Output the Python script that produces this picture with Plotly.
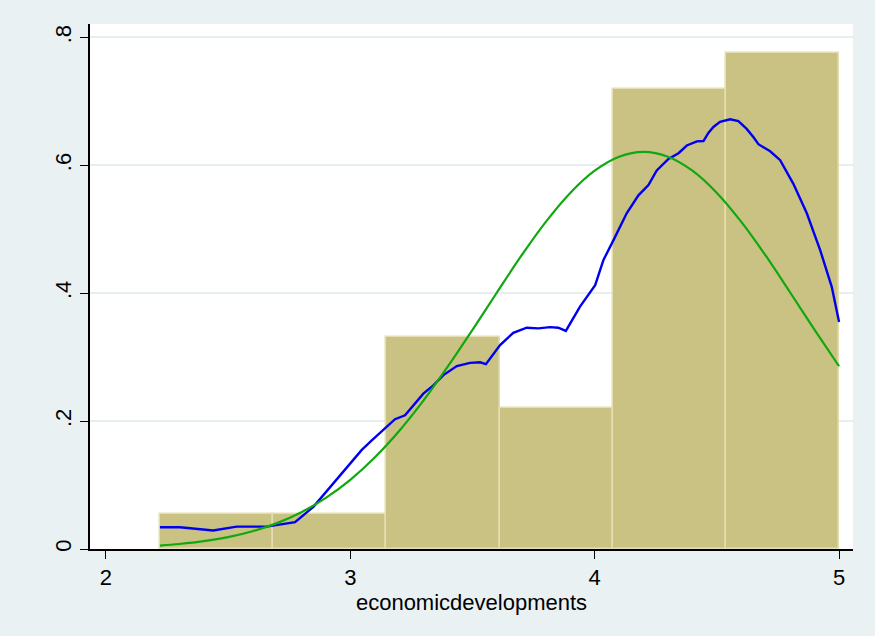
import plotly.graph_objects as go

# Histogram (density scale)
bin_edges = [2.221, 2.684, 3.147, 3.611, 4.074, 4.537, 5.0]
bin_heights = [0.0554, 0.0554, 0.332, 0.221, 0.7196, 0.775]

# Kernel density
kde_x = [2.221, 2.303, 2.439, 2.535, 2.658, 2.774, 2.849, 2.917, 2.985, 3.047, 3.088,
         3.149, 3.183, 3.224, 3.258, 3.299, 3.340, 3.381, 3.436, 3.490, 3.531, 3.555,
         3.613, 3.667, 3.722, 3.770, 3.817, 3.851, 3.882, 3.940, 4.002, 4.036, 4.077,
         4.131, 4.179, 4.220, 4.254, 4.302, 4.343, 4.377, 4.418, 4.445, 4.466, 4.486,
         4.513, 4.554, 4.588, 4.622, 4.650, 4.670, 4.718, 4.759, 4.813, 4.868, 4.923,
         4.970, 5.0]
kde_y = [0.034, 0.034, 0.029, 0.035, 0.035, 0.042, 0.066, 0.097, 0.128, 0.155, 0.170,
         0.191, 0.203, 0.209, 0.225, 0.243, 0.256, 0.272, 0.286, 0.291, 0.292, 0.289,
         0.319, 0.338, 0.346, 0.345, 0.347, 0.346, 0.341, 0.379, 0.4125, 0.452, 0.483,
         0.525, 0.553, 0.569, 0.592, 0.610, 0.619, 0.631, 0.6375, 0.638, 0.651, 0.660,
         0.668, 0.672, 0.669, 0.657, 0.644, 0.633, 0.622, 0.608, 0.571, 0.525, 0.467,
         0.410, 0.355]

# Normal density overlay
norm_x = [2.221, 2.3, 2.4, 2.5, 2.6, 2.7, 2.8, 2.9, 3.0, 3.1, 3.2, 3.3, 3.4, 3.5, 3.6,
          3.7, 3.8, 3.9, 4.0, 4.1, 4.2, 4.3, 4.4, 4.5, 4.6, 4.7, 4.8, 4.9, 5.0]
norm_y = [0.0054, 0.0078, 0.0122, 0.0186, 0.0278, 0.0405, 0.0576, 0.0799, 0.1082,
          0.1431, 0.1846, 0.2324, 0.2858, 0.3428, 0.4011, 0.4586, 0.5115, 0.5568,
          0.5916, 0.6135, 0.621, 0.6135, 0.5916, 0.5568, 0.5115, 0.4586, 0.4011,
          0.3428, 0.2858]

x_ticks = [2, 3, 4, 5]
y_ticks = [0, 0.2, 0.4, 0.6, 0.8]
y_tick_text = ["0", ".2", ".4", ".6", ".8"]
x_title = "economicdevelopments"

widths = [b - a for a, b in zip(bin_edges[:-1], bin_edges[1:])]

fig = go.Figure()
fig.add_trace(go.Bar(
    x=bin_edges[:-1], y=bin_heights, width=widths, offset=0,
    marker=dict(color="#CAC282", line=dict(color="#E4DEB2", width=1.5)),
    showlegend=False, hoverinfo="skip"))
fig.add_trace(go.Scatter(
    x=kde_x, y=kde_y, mode="lines",
    line=dict(color="#0000F0", width=2.4), showlegend=False))
fig.add_trace(go.Scatter(
    x=norm_x, y=norm_y, mode="lines", line_shape="spline",
    line=dict(color="#10A810", width=2.2), showlegend=False))

font_family = "Liberation Sans, Arial, sans-serif"
fig.update_layout(
    width=875, height=636,
    margin=dict(l=90, r=22, t=24, b=87),
    paper_bgcolor="#EAF1F3", plot_bgcolor="#FFFFFF",
    font=dict(family=font_family, size=22, color="#000000"),
    bargap=0,
    xaxis=dict(
        range=[1.935, 5.057], tickvals=x_ticks, ticks="outside", ticklen=8,
        tickcolor="#000000", showline=True, linecolor="#000000", linewidth=1.5,
        showgrid=False, zeroline=False, tickfont=dict(size=22),
        title=dict(text=x_title, font=dict(size=22), standoff=2)),
    yaxis=dict(
        range=[0, 0.821], tickvals=y_ticks, ticktext=y_tick_text, tickangle=-90,
        ticks="outside", ticklen=8, tickcolor="#000000", showline=True,
        linecolor="#000000", linewidth=1.5, showgrid=True, gridcolor="#E6EEF1",
        gridwidth=1.5, zeroline=False, tickfont=dict(size=22)),
)

fig.write_html("out.html")
